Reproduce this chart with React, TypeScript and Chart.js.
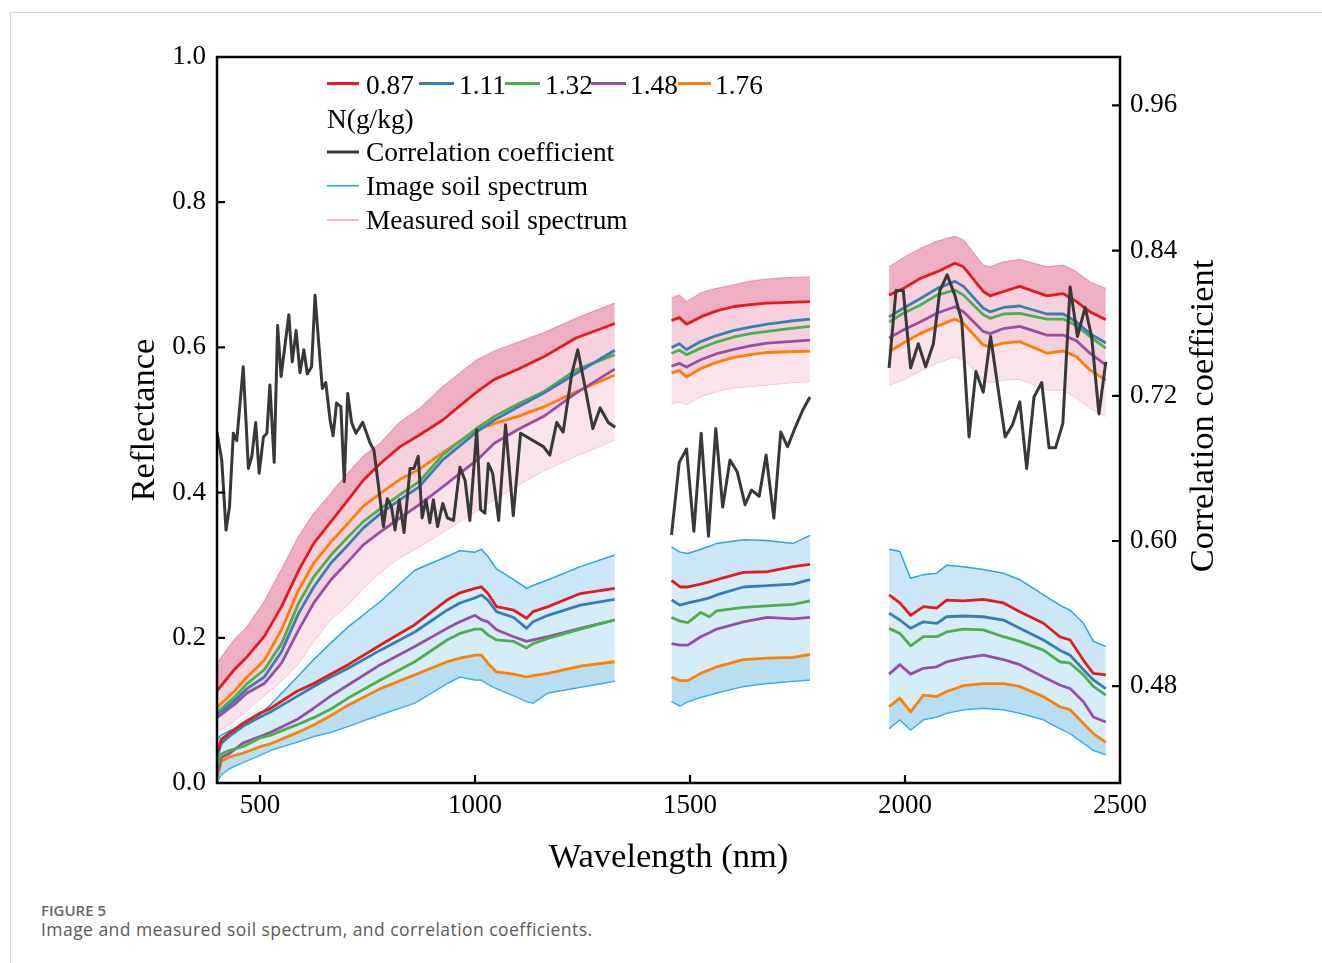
import React, { useEffect, useRef } from "react";
import { Chart, registerables } from "chart.js";

Chart.register(...registerables);

const SERIF = "'Liberation Serif', 'Times New Roman', serif";

// ---------- Correlation coefficient (right axis) ----------
const CORR_WL_1 = [400, 411, 421, 429, 438, 446, 461, 473, 481, 490, 498, 508, 516, 523, 533, 541, 549, 567, 575, 584, 593, 602, 610, 620, 628, 636, 645, 653, 663, 670, 678, 688, 696, 704, 713, 723, 739, 756, 765, 774, 787, 796, 806, 814, 824, 835, 849, 858, 868, 877, 886, 895, 903, 913, 925, 936, 950, 965, 977, 988, 1004, 1013, 1023, 1031, 1041, 1055, 1071, 1089, 1106, 1159, 1174, 1190, 1205, 1225, 1239, 1256, 1274, 1291, 1310, 1326];
const CORR_1 = [0.690, 0.667, 0.609, 0.628, 0.689, 0.683, 0.744, 0.660, 0.670, 0.698, 0.656, 0.686, 0.689, 0.729, 0.665, 0.778, 0.736, 0.787, 0.748, 0.774, 0.739, 0.758, 0.738, 0.744, 0.803, 0.766, 0.726, 0.731, 0.700, 0.687, 0.714, 0.711, 0.649, 0.722, 0.698, 0.689, 0.698, 0.681, 0.675, 0.650, 0.612, 0.635, 0.628, 0.609, 0.634, 0.607, 0.660, 0.660, 0.670, 0.619, 0.634, 0.615, 0.634, 0.612, 0.631, 0.619, 0.617, 0.661, 0.650, 0.617, 0.692, 0.626, 0.623, 0.664, 0.656, 0.617, 0.696, 0.621, 0.689, 0.678, 0.671, 0.698, 0.690, 0.738, 0.758, 0.727, 0.693, 0.710, 0.698, 0.694];
const CORR_WL_2 = [1457, 1475, 1492, 1509, 1526, 1543, 1560, 1576, 1593, 1610, 1628, 1643, 1661, 1677, 1695, 1711, 1727, 1746, 1762, 1779];
const CORR_2 = [0.605, 0.665, 0.676, 0.608, 0.689, 0.604, 0.693, 0.628, 0.667, 0.657, 0.630, 0.642, 0.637, 0.671, 0.619, 0.690, 0.678, 0.695, 0.708, 0.719];
const CORR_WL_3 = [1963, 1979, 1996, 2013, 2031, 2048, 2066, 2081, 2098, 2116, 2132, 2149, 2165, 2182, 2199, 2216, 2233, 2250, 2267, 2283, 2300, 2318, 2335, 2350, 2367, 2384, 2401, 2419, 2434, 2451, 2467];
const CORR_3 = [0.743, 0.807, 0.807, 0.743, 0.763, 0.744, 0.763, 0.807, 0.820, 0.803, 0.782, 0.686, 0.740, 0.723, 0.769, 0.727, 0.686, 0.696, 0.715, 0.660, 0.719, 0.731, 0.677, 0.677, 0.697, 0.810, 0.769, 0.793, 0.769, 0.705, 0.748];

// ---------- Measured soil spectrum (mean by N class + band envelope) ----------
const MEAS_WL_1 = [400, 440, 470, 510, 550, 590, 625, 665, 705, 740, 780, 825, 870, 925, 1005, 1045, 1100, 1160, 1235, 1325];
const M087_1 = [0.127, 0.156, 0.174, 0.202, 0.243, 0.293, 0.330, 0.360, 0.390, 0.417, 0.440, 0.463, 0.479, 0.500, 0.539, 0.556, 0.570, 0.587, 0.613, 0.633];
const M111_1 = [0.093, 0.113, 0.130, 0.146, 0.181, 0.234, 0.270, 0.303, 0.328, 0.351, 0.371, 0.390, 0.408, 0.445, 0.484, 0.500, 0.518, 0.537, 0.564, 0.596];
const M132_1 = [0.097, 0.118, 0.137, 0.156, 0.192, 0.248, 0.284, 0.314, 0.339, 0.360, 0.378, 0.397, 0.415, 0.452, 0.489, 0.505, 0.522, 0.539, 0.569, 0.590];
const M148_1 = [0.090, 0.108, 0.124, 0.137, 0.165, 0.211, 0.248, 0.280, 0.305, 0.328, 0.346, 0.365, 0.383, 0.408, 0.445, 0.468, 0.487, 0.505, 0.537, 0.570];
const M176_1 = [0.104, 0.126, 0.146, 0.169, 0.211, 0.266, 0.303, 0.332, 0.358, 0.381, 0.399, 0.418, 0.432, 0.455, 0.487, 0.495, 0.505, 0.518, 0.539, 0.562];
const PINK_UP_1 = [0.165, 0.197, 0.215, 0.250, 0.294, 0.340, 0.371, 0.399, 0.427, 0.450, 0.468, 0.497, 0.515, 0.546, 0.583, 0.595, 0.607, 0.620, 0.640, 0.661];
const PINK_LO_1 = [0.070, 0.085, 0.100, 0.120, 0.140, 0.165, 0.195, 0.225, 0.245, 0.268, 0.290, 0.310, 0.325, 0.345, 0.375, 0.390, 0.410, 0.430, 0.450, 0.472];

const MEAS_WL_2 = [1457, 1475, 1492, 1525, 1560, 1600, 1640, 1680, 1730, 1779];
const M087_2 = [0.637, 0.641, 0.632, 0.642, 0.650, 0.656, 0.659, 0.661, 0.662, 0.663];
const M111_2 = [0.600, 0.605, 0.597, 0.608, 0.616, 0.623, 0.628, 0.632, 0.636, 0.639];
const M132_2 = [0.592, 0.596, 0.590, 0.599, 0.607, 0.614, 0.619, 0.622, 0.626, 0.629];
const M148_2 = [0.574, 0.578, 0.573, 0.583, 0.591, 0.597, 0.602, 0.606, 0.608, 0.610];
const M176_2 = [0.565, 0.568, 0.559, 0.571, 0.579, 0.586, 0.590, 0.593, 0.594, 0.595];
const PINK_UP_2 = [0.668, 0.672, 0.663, 0.675, 0.681, 0.686, 0.691, 0.694, 0.696, 0.697];
const PINK_LO_2 = [0.522, 0.525, 0.521, 0.532, 0.539, 0.544, 0.546, 0.548, 0.551, 0.553];

const MEAS_WL_3 = [1963, 1996, 2035, 2074, 2116, 2136, 2182, 2198, 2229, 2267, 2330, 2368, 2399, 2430, 2467];
const M087_3 = [0.672, 0.681, 0.695, 0.704, 0.716, 0.711, 0.677, 0.671, 0.677, 0.684, 0.671, 0.674, 0.663, 0.649, 0.638];
const M111_3 = [0.642, 0.654, 0.667, 0.681, 0.691, 0.684, 0.654, 0.649, 0.655, 0.657, 0.646, 0.646, 0.635, 0.619, 0.606];
const M132_3 = [0.635, 0.647, 0.658, 0.672, 0.679, 0.672, 0.645, 0.640, 0.646, 0.647, 0.639, 0.639, 0.630, 0.615, 0.599];
const M148_3 = [0.613, 0.624, 0.635, 0.647, 0.656, 0.649, 0.622, 0.619, 0.626, 0.629, 0.617, 0.617, 0.609, 0.592, 0.576];
const M176_3 = [0.594, 0.606, 0.619, 0.629, 0.639, 0.633, 0.603, 0.601, 0.606, 0.608, 0.592, 0.595, 0.587, 0.569, 0.555];
const PINK_UP_3 = [0.711, 0.723, 0.736, 0.746, 0.753, 0.748, 0.713, 0.711, 0.718, 0.721, 0.711, 0.713, 0.704, 0.690, 0.681];
const PINK_LO_3 = [0.548, 0.555, 0.567, 0.578, 0.587, 0.583, 0.555, 0.551, 0.555, 0.556, 0.541, 0.541, 0.530, 0.516, 0.505];

// ---------- Image soil spectrum (mean by N class + band envelope) ----------
const IMG_WL_1 = [400, 410, 430, 460, 500, 525, 585, 625, 665, 705, 780, 860, 935, 965, 1000, 1015, 1030, 1050, 1090, 1120, 1135, 1170, 1245, 1325];
const I087_1 = [0.041, 0.060, 0.069, 0.082, 0.096, 0.103, 0.126, 0.137, 0.150, 0.163, 0.190, 0.218, 0.252, 0.262, 0.268, 0.270, 0.261, 0.243, 0.238, 0.227, 0.236, 0.243, 0.261, 0.268];
const I111_1 = [0.035, 0.055, 0.065, 0.078, 0.091, 0.098, 0.119, 0.133, 0.146, 0.158, 0.183, 0.208, 0.238, 0.248, 0.255, 0.259, 0.252, 0.236, 0.228, 0.213, 0.222, 0.231, 0.245, 0.253];
const I132_1 = [0.022, 0.040, 0.045, 0.050, 0.062, 0.066, 0.080, 0.090, 0.102, 0.117, 0.142, 0.167, 0.197, 0.206, 0.212, 0.212, 0.204, 0.197, 0.195, 0.186, 0.192, 0.199, 0.212, 0.2245];
const I148_1 = [0.012, 0.035, 0.041, 0.055, 0.064, 0.070, 0.087, 0.103, 0.120, 0.135, 0.163, 0.188, 0.213, 0.222, 0.231, 0.225, 0.222, 0.211, 0.2015, 0.195, 0.197, 0.2015, 0.213, 0.2245];
const I176_1 = [0.006, 0.030, 0.036, 0.041, 0.050, 0.054, 0.069, 0.080, 0.093, 0.107, 0.130, 0.149, 0.167, 0.172, 0.176, 0.176, 0.165, 0.153, 0.150, 0.146, 0.148, 0.151, 0.161, 0.167];
const BLUE_UP_1 = [0.060, 0.066, 0.072, 0.080, 0.095, 0.108, 0.145, 0.170, 0.193, 0.215, 0.250, 0.293, 0.312, 0.320, 0.318, 0.322, 0.312, 0.295, 0.280, 0.268, 0.272, 0.280, 0.298, 0.314];
const BLUE_LO_1 = [0.000, 0.012, 0.020, 0.028, 0.038, 0.045, 0.056, 0.064, 0.070, 0.078, 0.094, 0.110, 0.137, 0.146, 0.142, 0.142, 0.136, 0.130, 0.120, 0.112, 0.110, 0.124, 0.132, 0.140];

const IMG_WL_2 = [1457, 1477, 1495, 1525, 1545, 1562, 1624, 1680, 1740, 1779];
const I087_2 = [0.279, 0.270, 0.270, 0.274, 0.277, 0.280, 0.290, 0.291, 0.298, 0.301];
const I111_2 = [0.252, 0.245, 0.248, 0.252, 0.255, 0.259, 0.270, 0.272, 0.274, 0.280];
const I132_2 = [0.228, 0.223, 0.221, 0.235, 0.229, 0.237, 0.242, 0.244, 0.246, 0.251];
const I148_2 = [0.192, 0.190, 0.190, 0.2015, 0.207, 0.212, 0.222, 0.228, 0.226, 0.228];
const I176_2 = [0.146, 0.141, 0.141, 0.151, 0.156, 0.160, 0.170, 0.172, 0.173, 0.177];
const BLUE_UP_2 = [0.325, 0.318, 0.316, 0.322, 0.326, 0.330, 0.335, 0.334, 0.330, 0.341];
const BLUE_LO_2 = [0.112, 0.106, 0.112, 0.118, 0.121, 0.124, 0.133, 0.137, 0.140, 0.142];

const IMG_WL_3 = [1963, 1988, 2013, 2043, 2074, 2097, 2136, 2182, 2229, 2267, 2322, 2360, 2384, 2415, 2438, 2467];
const I087_3 = [0.259, 0.248, 0.231, 0.243, 0.241, 0.252, 0.251, 0.253, 0.248, 0.236, 0.220, 0.2015, 0.197, 0.169, 0.151, 0.149];
const I111_3 = [0.234, 0.2245, 0.213, 0.222, 0.220, 0.229, 0.230, 0.229, 0.2245, 0.213, 0.197, 0.183, 0.176, 0.156, 0.142, 0.130];
const I132_3 = [0.213, 0.206, 0.189, 0.2015, 0.2015, 0.208, 0.212, 0.211, 0.2015, 0.195, 0.183, 0.167, 0.165, 0.149, 0.133, 0.121];
const I148_3 = [0.150, 0.163, 0.150, 0.158, 0.160, 0.167, 0.172, 0.176, 0.170, 0.163, 0.146, 0.135, 0.130, 0.112, 0.091, 0.084];
const I176_3 = [0.105, 0.117, 0.098, 0.121, 0.119, 0.126, 0.134, 0.137, 0.137, 0.133, 0.119, 0.105, 0.101, 0.082, 0.068, 0.056];
const BLUE_UP_3 = [0.322, 0.319, 0.282, 0.287, 0.289, 0.300, 0.298, 0.294, 0.289, 0.280, 0.259, 0.245, 0.238, 0.220, 0.195, 0.188];
const BLUE_LO_3 = [0.075, 0.087, 0.073, 0.087, 0.091, 0.096, 0.101, 0.103, 0.101, 0.096, 0.087, 0.075, 0.068, 0.055, 0.045, 0.039];

// ---------- Labels / ticks ----------
const N_LABELS = ["0.87", "1.11", "1.32", "1.48", "1.76"];
const N_COLORS = ["#E41A1C", "#377EB8", "#4DAF4A", "#984EA3", "#FF7F00"];
const X_TICKS = [500, 1000, 1500, 2000, 2500];
const LEFT_TICKS = [0, 0.2, 0.4, 0.6, 0.8, 1.0];
const RIGHT_TICKS = [0.48, 0.6, 0.72, 0.84, 0.96];

const CORR_COLOR = "#383838";
const IMG_LINE = "#27A6DF";
const MEAS_LINE = "#EC93AE";

const SEGMENTS = [
  { measWl: MEAS_WL_1, meas: [M087_1, M111_1, M132_1, M148_1, M176_1], pinkUp: PINK_UP_1, pinkLo: PINK_LO_1, lowMeas: 3,
    imgWl: IMG_WL_1, img: [I087_1, I111_1, I132_1, I148_1, I176_1], blueUp: BLUE_UP_1, blueLo: BLUE_LO_1,
    corrWl: CORR_WL_1, corr: CORR_1 },
  { measWl: MEAS_WL_2, meas: [M087_2, M111_2, M132_2, M148_2, M176_2], pinkUp: PINK_UP_2, pinkLo: PINK_LO_2, lowMeas: 4,
    imgWl: IMG_WL_2, img: [I087_2, I111_2, I132_2, I148_2, I176_2], blueUp: BLUE_UP_2, blueLo: BLUE_LO_2,
    corrWl: CORR_WL_2, corr: CORR_2 },
  { measWl: MEAS_WL_3, meas: [M087_3, M111_3, M132_3, M148_3, M176_3], pinkUp: PINK_UP_3, pinkLo: PINK_LO_3, lowMeas: 4,
    imgWl: IMG_WL_3, img: [I087_3, I111_3, I132_3, I148_3, I176_3], blueUp: BLUE_UP_3, blueLo: BLUE_LO_3,
    corrWl: CORR_WL_3, corr: CORR_3 },
];

const pts = (xs: number[], ys: number[]) => xs.map((x, i) => ({ x, y: ys[i] }));

function buildDatasets() {
  const ds: any[] = [];
  const base = { pointRadius: 0, tension: 0, borderJoinStyle: "round" as const };
  SEGMENTS.forEach((seg) => {
    // measured band (pink)
    ds.push({ ...base, data: pts(seg.measWl, seg.pinkUp), borderColor: MEAS_LINE, borderWidth: 1.2, backgroundColor: "rgba(234,152,178,0.78)", fill: "+1", order: 5 });
    ds.push({ ...base, data: pts(seg.measWl, seg.meas[0]), borderColor: "rgba(0,0,0,0)", borderWidth: 0, backgroundColor: "rgba(240,180,200,0.62)", fill: "+1", order: 5 });
    ds.push({ ...base, data: pts(seg.measWl, seg.meas[seg.lowMeas]), borderColor: "rgba(0,0,0,0)", borderWidth: 0, backgroundColor: "rgba(246,208,221,0.6)", fill: "+1", order: 5 });
    ds.push({ ...base, data: pts(seg.measWl, seg.pinkLo), borderColor: "#F4C3D1", borderWidth: 1, fill: false, order: 5 });
    // image band (blue)
    ds.push({ ...base, data: pts(seg.imgWl, seg.blueUp), borderColor: IMG_LINE, borderWidth: 1.5, backgroundColor: "rgba(160,212,240,0.55)", fill: "+1", order: 4 });
    ds.push({ ...base, data: pts(seg.imgWl, seg.img[0]), borderColor: "rgba(0,0,0,0)", borderWidth: 0, backgroundColor: "rgba(172,220,243,0.5)", fill: "+1", order: 4 });
    ds.push({ ...base, data: pts(seg.imgWl, seg.img[4]), borderColor: "rgba(0,0,0,0)", borderWidth: 0, backgroundColor: "rgba(125,195,234,0.55)", fill: "+1", order: 4 });
    ds.push({ ...base, data: pts(seg.imgWl, seg.blueLo), borderColor: IMG_LINE, borderWidth: 1.5, fill: false, order: 4 });
    // class means
    seg.meas.forEach((vals, k) => {
      ds.push({ ...base, data: pts(seg.measWl, vals), borderColor: N_COLORS[k], borderWidth: 2.8, fill: false, order: 2 });
    });
    seg.img.forEach((vals, k) => {
      ds.push({ ...base, data: pts(seg.imgWl, vals), borderColor: N_COLORS[k], borderWidth: 2.8, fill: false, order: 2 });
    });
    // correlation
    ds.push({ ...base, data: pts(seg.corrWl, seg.corr), borderColor: CORR_COLOR, borderWidth: 3, fill: false, yAxisID: "y2", order: 0 });
  });
  return ds;
}

const decorPlugin = {
  id: "decor",
  afterDatasetsDraw(chart: any) {
    const { ctx, chartArea: a, scales } = chart;
    ctx.save();
    // frame
    ctx.strokeStyle = "#000";
    ctx.lineWidth = 2.5;
    ctx.strokeRect(a.left, a.top, a.right - a.left, a.bottom - a.top);
    // inward ticks
    ctx.lineWidth = 2.2;
    ctx.beginPath();
    X_TICKS.forEach((v) => {
      const p = scales.x.getPixelForValue(v);
      ctx.moveTo(p, a.bottom);
      ctx.lineTo(p, a.bottom - 8);
    });
    LEFT_TICKS.forEach((v) => {
      const p = scales.y.getPixelForValue(v);
      ctx.moveTo(a.left, p);
      ctx.lineTo(a.left + 8, p);
    });
    RIGHT_TICKS.forEach((v) => {
      const p = scales.y2.getPixelForValue(v);
      ctx.moveTo(a.right, p);
      ctx.lineTo(a.right - 8, p);
    });
    ctx.stroke();

    // axis titles
    ctx.fillStyle = "#000";
    ctx.font = `34.5px ${SERIF}`;
    ctx.textAlign = "center";
    ctx.textBaseline = "alphabetic";
    ctx.fillText("Wavelength (nm)", (a.left + a.right) / 2, 867);
    ctx.save();
    ctx.translate(154, (a.top + a.bottom) / 2);
    ctx.rotate(-Math.PI / 2);
    ctx.fillText("Reflectance", 0, 0);
    ctx.restore();
    ctx.save();
    ctx.translate(1213, 416);
    ctx.rotate(-Math.PI / 2);
    ctx.fillText("Correlation coefficient", 0, 0);
    ctx.restore();

    // legend
    ctx.font = `27.4px ${SERIF}`;
    ctx.textAlign = "left";
    ctx.lineCap = "butt";
    const row1 = [
      { x1: 327, x2: 359, tx: 366 },
      { x1: 419, x2: 454, tx: 459 },
      { x1: 505, x2: 540, tx: 545 },
      { x1: 591, x2: 626, tx: 630 },
      { x1: 678, x2: 711, tx: 715 },
    ];
    row1.forEach((r, k) => {
      ctx.strokeStyle = N_COLORS[k];
      ctx.lineWidth = 3;
      ctx.beginPath();
      ctx.moveTo(r.x1, 83.5);
      ctx.lineTo(r.x2, 83.5);
      ctx.stroke();
      ctx.fillText(N_LABELS[k], r.tx, 93.5);
    });
    ctx.fillText("N(g/kg)", 327, 127.7);
    const rows = [
      { color: CORR_COLOR, w: 3, ly: 152, by: 161.3, text: "Correlation coefficient" },
      { color: IMG_LINE, w: 1.6, ly: 185.7, by: 195, text: "Image soil spectrum" },
      { color: MEAS_LINE, w: 1.4, ly: 220, by: 228.5, text: "Measured soil spectrum" },
    ];
    rows.forEach((r) => {
      ctx.strokeStyle = r.color;
      ctx.lineWidth = r.w;
      ctx.beginPath();
      ctx.moveTo(327, r.ly);
      ctx.lineTo(359, r.ly);
      ctx.stroke();
      ctx.fillText(r.text, 366, r.by);
    });
    ctx.restore();
  },
};

const tickFont = { family: SERIF, size: 27 };

export default function App() {
  const ref = useRef<HTMLCanvasElement | null>(null);
  useEffect(() => {
    if (!ref.current) return;
    const chart = new Chart(ref.current, {
      type: "line",
      data: { datasets: buildDatasets() },
      options: {
        animation: false,
        responsive: false,
        maintainAspectRatio: false,
        devicePixelRatio: 1,
        layout: { padding: { left: 0, right: 92, top: 57, bottom: 0 } },
        plugins: {
          legend: { display: false },
          tooltip: { enabled: false },
          filler: { propagate: false },
        },
        scales: {
          x: {
            type: "linear",
            min: 400,
            max: 2500,
            afterBuildTicks: (s: any) => {
              s.ticks = X_TICKS.map((v) => ({ value: v }));
            },
            ticks: { font: tickFont, color: "#000", padding: 7, maxRotation: 0, autoSkip: false, callback: (v: any) => String(v) },
            grid: { display: false, drawTicks: false },
            border: { display: false },
            afterFit: (s: any) => {
              s.height = 97;
            },
          },
          y: {
            type: "linear",
            position: "left",
            min: 0,
            max: 1,
            afterBuildTicks: (s: any) => {
              s.ticks = LEFT_TICKS.map((v) => ({ value: v }));
            },
            ticks: { font: tickFont, color: "#000", padding: 11, callback: (v: any) => Number(v).toFixed(1) },
            grid: { display: false, drawTicks: false },
            border: { display: false },
            afterFit: (s: any) => {
              s.width = 217;
            },
          },
          y2: {
            type: "linear",
            position: "right",
            min: 0.4,
            max: 1.0,
            afterBuildTicks: (s: any) => {
              s.ticks = RIGHT_TICKS.map((v) => ({ value: v }));
            },
            ticks: { font: tickFont, color: "#000", padding: 10, callback: (v: any) => Number(v).toFixed(2) },
            grid: { display: false, drawTicks: false },
            border: { display: false },
            afterFit: (s: any) => {
              s.width = 110;
            },
          },
        },
      },
      plugins: [decorPlugin],
    } as any);
    return () => chart.destroy();
  }, []);

  return (
    <div style={{ position: "absolute", left: 0, top: 0, width: 1322, height: 963, overflow: "hidden", background: "#fff" }}>
      <div style={{ position: "absolute", left: 10, top: 12, width: 1400, height: 1100, borderTop: "1px solid #d4d4d4", borderLeft: "1px solid #d4d4d4" }} />
      <canvas ref={ref} width={1322} height={880} style={{ position: "absolute", left: 0, top: 0, width: 1322, height: 880 }} />
      <div style={{ position: "absolute", left: 41, top: 900, fontFamily: "'Open Sans', sans-serif", fontSize: 15, fontWeight: 600, color: "#666", whiteSpace: "nowrap", lineHeight: "normal" }}>
        FIGURE 5
      </div>
      <div style={{ position: "absolute", left: 41, top: 917, fontFamily: "'Open Sans', sans-serif", fontSize: 17.5, letterSpacing: 0.45, fontWeight: 400, color: "#5a5a5a", whiteSpace: "nowrap", lineHeight: "normal" }}>
        Image and measured soil spectrum, and correlation coefficients.
      </div>
    </div>
  );
}
